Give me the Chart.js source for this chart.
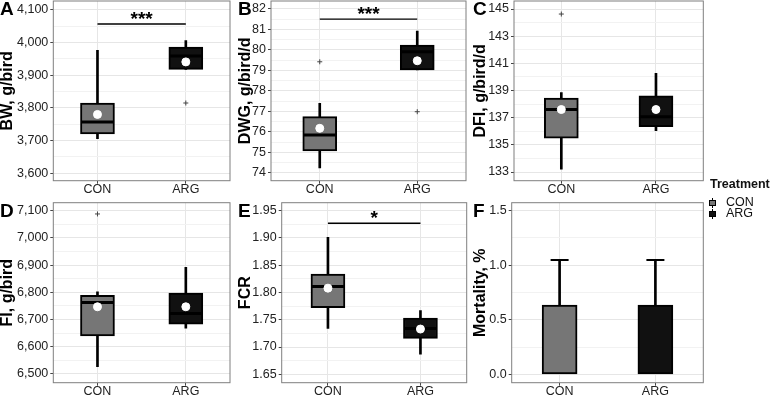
<!DOCTYPE html>
<html lang="en">
<head>
<meta charset="UTF-8" />
<title>Growth performance</title>
<script src="https://cdn.jsdelivr.net/npm/chart.js"></script>
<style>
  body { margin: 0; background: #fff; font-family: 'Liberation Sans', Arial, sans-serif; }
  #wrap { position: relative; width: 777px; height: 396px; overflow: hidden; }
  #wrap canvas { position: absolute; left: 0; top: 0; }
  .lg { position: absolute; font-size: 12.5px; line-height: 12.5px; color: #111; white-space: nowrap; }
  .ico { position: absolute; width: 7px; height: 10px; }
  .ico .wh { position: absolute; left: 3px; top: 0; width: 1px; height: 10px; background: #000; }
  .ico .bx { position: absolute; left: 0; top: 2px; width: 5px; height: 4px; border: 1px solid #000; }
</style>
</head>
<body>
<div id="wrap">
  <canvas id="cA" width="777" height="396"></canvas>
  <canvas id="cB" width="777" height="396"></canvas>
  <canvas id="cC" width="777" height="396"></canvas>
  <canvas id="cD" width="777" height="396"></canvas>
  <canvas id="cE" width="777" height="396"></canvas>
  <canvas id="cF" width="777" height="396"></canvas>

  <div class="lg" style="left:710px; top:177.7px; font-weight:bold;">Treatment</div>
  <span class="ico" style="left:709px; top:198px;"><i class="wh"></i><i class="bx" style="background:#767676"></i></span>
  <div class="lg" style="left:726px; top:196.1px;">CON</div>
  <span class="ico" style="left:709px; top:209px;"><i class="wh"></i><i class="bx" style="background:#111"></i></span>
  <div class="lg" style="left:726px; top:207.4px;">ARG</div>
</div>

<script>
  const groups = ['CON', 'ARG'];
  const fills = ['#767676', '#111111'];

  // box values per group: [low whisker, Q1, median, Q3, high whisker]
  const bwCON = [3706, 3720, 3757, 3815, 3976];
  const bwARG = [3918, 3918, 3959, 3986, 4006];
  const bwMean = [3780, 3941];
  const bwOutliers = [null, 3815];
  const bwTicks = [3600, 3700, 3800, 3900, 4000, 4100];

  const dwgCON = [74.24, 75.07, 75.84, 76.74, 77.39];
  const dwgARG = [79.02, 79.02, 79.91, 80.24, 80.92];
  const dwgMean = [76.17, 79.47];
  const dwgOutliers = [79.42, 76.98];
  const dwgTicks = [74, 75, 76, 77, 78, 79, 80, 81, 82];

  const dfiCON = [133.2, 135.5, 137.61, 138.45, 138.84];
  const dfiARG = [136.04, 136.34, 137.07, 138.6, 140.26];
  const dfiMean = [137.6, 137.6];
  const dfiOutliers = [144.63, null];
  const dfiTicks = [133, 135, 137, 139, 141, 143, 145];

  const fiCON = [6527, 6640, 6763, 6789, 6802];
  const fiARG = [6668, 6683, 6722, 6797, 6892];
  const fiMean = [6747, 6747];
  const fiOutliers = [7088, null];
  const fiTicks = [6500, 6600, 6700, 6800, 6900, 7000, 7100];

  const fcrCON = [1.734, 1.772, 1.811, 1.834, 1.901];
  const fcrARG = [1.687, 1.716, 1.734, 1.753, 1.767];
  const fcrMean = [1.808, 1.733];
  const fcrOutliers = [null, null];
  const fcrTicks = [1.65, 1.70, 1.75, 1.80, 1.85, 1.90, 1.95];

  const mortMean = [0.635, 0.635];
  const mortUpper = [1.048, 1.048];
  const mortTicks = [0, 0.5, 1.0, 1.5];

  const FAMILY = "'Liberation Sans', Arial, sans-serif";
  Chart.defaults.font.family = FAMILY;
  Chart.defaults.color = '#222';

  // frame, panel letter and significance stars
  const panelExtras = {
    id: 'panelExtras',
    afterDraw(chart, args, opts) {
      const { ctx, chartArea: a, scales: { x, y } } = chart;
      ctx.save();
      ctx.strokeStyle = '#7f7f7f';
      ctx.lineWidth = 1;
      ctx.strokeRect(a.left, a.top, a.right - a.left, a.bottom - a.top);
      ctx.fillStyle = '#000';
      ctx.font = 'bold 19px ' + FAMILY;
      ctx.textBaseline = 'alphabetic';
      ctx.fillText(opts.letter, y.left, a.top + 14);
      if (opts.sig) {
        const mid = (x.getPixelForValue(0) + x.getPixelForValue(1)) / 2;
        ctx.textAlign = 'center';
        ctx.fillText(opts.sig.text, mid, y.getPixelForValue(opts.sig.at) + 1);
      }
      ctx.restore();
    }
  };

  function withMinor(major) {
    const out = [];
    major.forEach((v, i) => {
      out.push({ value: v });
      if (i < major.length - 1) out.push({ value: (v + major[i + 1]) / 2, minor: true });
    });
    return out;
  }

  function scalesFor(p) {
    const all = withMinor(p.ticks);
    return {
      x: {
        afterFit: s => { s.height = p.xHeight; s.paddingLeft = 0; s.paddingRight = 0; },
        ticks: { padding: -2, color: '#222', font: { size: 12.5 } },
        grid: { offset: false, color: '#e6e6e6', tickLength: 3, tickColor: '#444' },
        border: { display: false }
      },
      y: {
        min: p.range[0],
        max: p.range[1],
        afterBuildTicks: s => { s.ticks = all.map(t => ({ ...t })); },
        afterFit: s => { s.width = p.yWidth; s.paddingTop = 0; s.paddingBottom = 0; },
        ticks: {
          autoSkip: false,
          padding: 2,
          color: '#222',
          font: { size: 12.5 },
          callback: (v, i, ts) => ts[i].minor ? '' : p.fmt(v)
        },
        grid: {
          color: c => (c.tick && c.tick.minor) ? '#f2f2f2' : '#e6e6e6',
          tickLength: 3,
          tickColor: c => (c.tick && c.tick.minor) ? 'rgba(0,0,0,0)' : '#444'
        },
        border: { display: false },
        title: { display: true, text: p.title, color: '#000', padding: 0, font: { size: 16, weight: 'bold', lineHeight: 1 } }
      }
    };
  }

  function layoutFor(p) {
    return { autoPadding: false, padding: { left: p.left, top: p.top, right: 777 - p.right, bottom: p.bottom } };
  }

  function boxPanel(id, p) {
    const boxes = [p.con, p.arg];
    const datasets = [
      { type: 'line', data: p.mean, showLine: false, pointStyle: 'circle', pointRadius: 4,
        pointBackgroundColor: '#fff', pointBorderColor: '#fff', pointBorderWidth: 1 },
      { type: 'line', data: boxes.map(b => b[2]), showLine: false, pointStyle: 'line', pointRadius: 16,
        pointBorderColor: '#000', pointBorderWidth: 3 },
      { type: 'bar', data: boxes.map(b => [b[1], b[3]]), backgroundColor: fills, borderColor: '#000',
        borderWidth: 2, borderSkipped: false, barThickness: 34, grouped: false },
      { type: 'bar', data: boxes.map(b => [b[0], b[4]]), backgroundColor: '#000', barThickness: 2, grouped: false },
      { type: 'line', data: p.outliers, showLine: false, pointStyle: 'cross', pointRadius: 2.5,
        pointBorderColor: '#444', pointBorderWidth: 1 }
    ];
    if (p.sig) {
      datasets.push({ type: 'line', data: [p.sig.at, p.sig.at], borderColor: '#000', borderWidth: 1.3, pointRadius: 0 });
    }
    new Chart(document.getElementById(id), {
      type: 'bar',
      data: { labels: groups, datasets },
      options: {
        responsive: false, animation: false, events: [],
        layout: layoutFor(p),
        scales: scalesFor(p),
        plugins: { legend: { display: false }, tooltip: { enabled: false },
          panelExtras: { letter: p.letter, sig: p.sig } }
      },
      plugins: [panelExtras]
    });
  }

  const thousands = v => v.toLocaleString('en-US');
  const topRow = { top: 1, bottom: 195.3, xHeight: 20 };
  const lowRow = { top: 202.7, bottom: 0, xHeight: 13.3 };

  boxPanel('cA', { ...topRow, letter: 'A', title: 'BW, g/bird', left: 0, yWidth: 53.3, right: 230,
    con: bwCON, arg: bwARG, mean: bwMean, outliers: bwOutliers, ticks: bwTicks, range: [3577, 4127.5],
    fmt: thousands, sig: { at: 4057, text: '***' } });

  boxPanel('cB', { ...topRow, letter: 'B', title: 'DWG, g/bird/d', left: 238, yWidth: 33, right: 466,
    con: dwgCON, arg: dwgARG, mean: dwgMean, outliers: dwgOutliers, ticks: dwgTicks, range: [73.61, 82.39],
    fmt: v => String(v), sig: { at: 81.5, text: '***' } });

  boxPanel('cC', { ...topRow, letter: 'C', title: 'DFI, g/bird/d', left: 473, yWidth: 41, right: 703.3,
    con: dfiCON, arg: dfiARG, mean: dfiMean, outliers: dfiOutliers, ticks: dfiTicks, range: [132.36, 145.59],
    fmt: v => String(v) });

  boxPanel('cD', { ...lowRow, letter: 'D', title: 'FI, g/bird', left: 0, yWidth: 53.3, right: 230,
    con: fiCON, arg: fiARG, mean: fiMean, outliers: fiOutliers, ticks: fiTicks, range: [6468, 7129.4],
    fmt: thousands });

  boxPanel('cE', { ...lowRow, letter: 'E', title: 'FCR', left: 238, yWidth: 43.7, right: 466.7,
    con: fcrCON, arg: fcrARG, mean: fcrMean, outliers: fcrOutliers, ticks: fcrTicks, range: [1.6346, 1.9647],
    fmt: v => v.toFixed(2), sig: { at: 1.927, text: '*' } });

  // F: mean bar with upper error bar
  const pF = { ...lowRow, letter: 'F', title: 'Mortality, %', left: 473, yWidth: 38.7, right: 703.3,
    ticks: mortTicks, range: [-0.077, 1.573], fmt: v => v.toFixed(1) };
  new Chart(document.getElementById('cF'), {
    type: 'bar',
    data: {
      labels: groups,
      datasets: [
        { type: 'line', data: mortUpper, showLine: false, pointStyle: 'line', pointRadius: 9,
          pointBorderColor: '#000', pointBorderWidth: 2 },
        { type: 'bar', data: mortMean, backgroundColor: fills, borderColor: '#000', borderWidth: 2,
          borderSkipped: false, barThickness: 35, grouped: false },
        { type: 'bar', data: mortMean.map((m, i) => [m, mortUpper[i]]), backgroundColor: '#000',
          barThickness: 2, grouped: false }
      ]
    },
    options: {
      responsive: false, animation: false, events: [],
      layout: layoutFor(pF),
      scales: scalesFor(pF),
      plugins: { legend: { display: false }, tooltip: { enabled: false }, panelExtras: { letter: 'F' } }
    },
    plugins: [panelExtras]
  });
</script>
</body>
</html>
